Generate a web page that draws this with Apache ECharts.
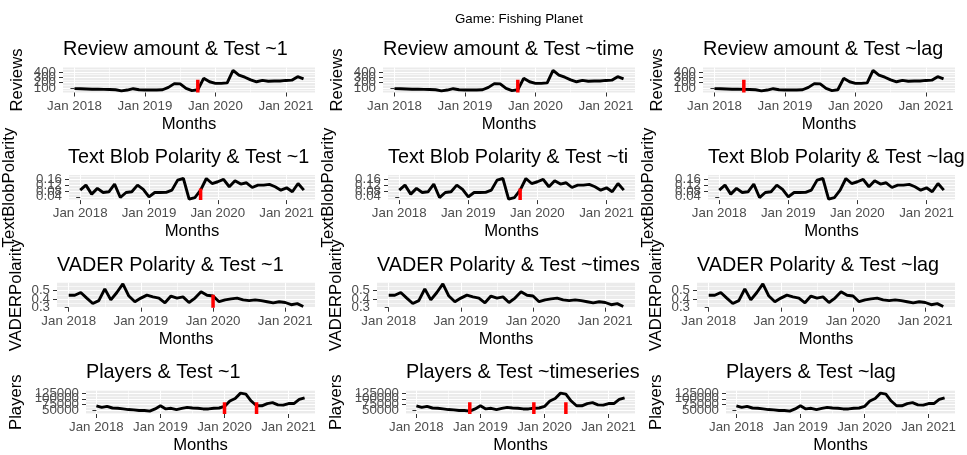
<!DOCTYPE html>
<html><head><meta charset="utf-8">
<script src="https://cdn.jsdelivr.net/npm/echarts@6/dist/echarts.min.js"></script>
<style>html,body{margin:0;padding:0;background:#fff}#c{width:967px;height:455px}</style>
</head><body><div id="c"></div>
<script>
// ---------------- data ----------------
const months = ['2018-01','2018-02','2018-03','2018-04','2018-05','2018-06','2018-07','2018-08','2018-09','2018-10','2018-11','2018-12',
  '2019-01','2019-02','2019-03','2019-04','2019-05','2019-06','2019-07','2019-08','2019-09','2019-10','2019-11','2019-12',
  '2020-01','2020-02','2020-03','2020-04','2020-05','2020-06','2020-07','2020-08','2020-09','2020-10','2020-11','2020-12',
  '2021-01','2021-02','2021-03','2021-04'];
const reviews = [87,85,80,75,78,72,70,65,45,60,85,65,60,62,62,65,110,180,175,90,50,65,280,215,185,185,195,430,340,300,250,215,240,225,230,230,240,245,310,270];
const textBlob = [0.085,0.119,0.058,0.097,0.069,0.074,0.126,0.035,0.069,0.074,0.119,0.090,0.040,0.069,0.069,0.070,0.085,0.153,0.164,0.024,0.035,0.085,0.164,0.130,0.142,0.158,0.108,0.149,0.126,0.135,0.103,0.119,0.119,0.124,0.108,0.085,0.101,0.074,0.130,0.085];
const vader = [0.445,0.445,0.478,0.412,0.348,0.382,0.520,0.391,0.478,0.580,0.436,0.369,0.412,0.447,0.426,0.412,0.356,0.436,0.412,0.426,0.360,0.412,0.486,0.445,0.436,0.369,0.391,0.403,0.412,0.391,0.382,0.391,0.382,0.369,0.356,0.369,0.360,0.334,0.346,0.312];
const players = [69400,62500,66700,59700,58300,55600,52800,51400,48600,48600,45800,55600,69400,55600,58300,52800,58300,62500,59700,58300,55600,55600,58300,59700,66700,90300,101400,125000,120800,90300,69400,69400,79200,83300,73600,72200,79200,79200,97200,104200];

const xTickMonths = ['2018-01','2019-01','2020-01','2021-01'];
const xTickLabels = ['Jan 2018','Jan 2019','Jan 2020','Jan 2021'];
const xMinorMonths = ['2018-07','2019-07','2020-07'];

const reviewTicks = [100,200,300,400];
const reviewMinor = [50,150,250,350,450];
const textTicks = [0.04,0.08,0.12,0.16];
const textMinor = [0.02,0.06,0.10,0.14,0.18];
const vaderTicks = [0.3,0.4,0.5];
const vaderMinor = [0.25,0.35,0.45,0.55];
const playerTicks = [50000,75000,100000,125000];
const playerMinor = [37500,62500,87500,112500,137500];

// y-axis limits (null = data range + 5%)
const yLimits = [[14, 482], [0.0176, 0.187], null, [33300, 137500]];

const rowTitles = ['Review amount','Text Blob Polarity','VADER Polarity','Players'];
const colTests = ['Test ~1','Test ~timeseries','Test ~lag'];
const yNames = ['Reviews','TextBlobPolarity','VADERPolarity','Players'];

// change points (month) per row, per column
const changePoints = [
  [['2019-10'], ['2019-10'], ['2018-06']],
  [['2019-10'], ['2019-10'], []],
  [['2020-01'], [], []],
  [['2020-01','2020-07'], ['2018-11','2019-11','2020-05'], []]
];
// top value of the red change-point marks, per row
const cpTop = [255, 0.097, 0.45, 85000];

// ---------------- layout ----------------
const FONT = 'Liberation Sans, Arial, Helvetica, sans-serif';
const seriesData = [reviews, textBlob, vader, players];
const ticks = [reviewTicks, textTicks, vaderTicks, playerTicks];
const minors = [reviewMinor, textMinor, vaderMinor, playerMinor];
const rowLayout = [
  {left: 63, top: 67.5, nameGap: 37, titleTop: 40},
  {left: 68, top: 175.1, nameGap: 51, titleTop: 147.6},
  {left: 57, top: 282.7, nameGap: 32, titleTop: 255.2},
  {left: 86, top: 390.3, nameGap: 61, titleTop: 362.8}
];
const colDx = [0, 320, 640];
const colClip = [321, 643, 967];
const panelRight = 315, panelH = 25;

const idx = m => months.indexOf(m);
const span = months.length - 1;
const xMin = -0.05 * span, xMax = span + 0.05 * span;

const option = {
  animation: false,
  backgroundColor: '#fff',
  title: [{text: 'Game: Fishing Planet', left: 455, top: 13, padding: 0,
    textStyle: {fontFamily: FONT, fontSize: 13.3, fontWeight: 'normal', color: '#000'}}],
  grid: [], xAxis: [], yAxis: [], series: []
};

for (let r = 0; r < 4; r++) {
  const vals = seriesData[r];
  const lo = Math.min(...vals), hi = Math.max(...vals), d = hi - lo;
  const yMin = yLimits[r] ? yLimits[r][0] : lo - 0.05 * d;
  const yMax = yLimits[r] ? yLimits[r][1] : hi + 0.05 * d;
  const L = rowLayout[r];
  for (let c = 0; c < 3; c++) {
    const g = option.grid.length;
    const left = L.left + colDx[c];
    option.grid.push({left: left, top: L.top, width: panelRight - L.left, height: panelH,
      show: true, backgroundColor: '#EBEBEB', borderWidth: 0});
    option.title.push({text: rowTitles[r] + ' & ' + colTests[c], left: left, top: L.titleTop, padding: 0,
      textStyle: {fontFamily: FONT, fontSize: 19.8, fontWeight: 'normal', color: '#000',
        width: colClip[c] - left, overflow: 'truncate', ellipsis: ''}});
    // x axes: major (ticks, labels, major grid) and minor grid
    const xt = xTickMonths.map(idx);
    const xMain = option.xAxis.length;
    option.xAxis.push({gridIndex: g, type: 'value', min: xMin, max: xMax, position: 'bottom',
      axisLine: {show: false},
      axisTick: {show: true, customValues: xt, length: 4, lineStyle: {color: '#333333', width: 1}},
      axisLabel: {customValues: xt, margin: 7, hideOverlap: false,
        fontFamily: FONT, fontSize: 13.3, color: '#4D4D4D',
        formatter: v => xTickLabels[xt.indexOf(Math.round(v))] || ''},
      splitLine: {show: true, customValues: xt, lineStyle: {color: '#FFFFFF', width: 1.1}},
      name: 'Months', nameLocation: 'middle', nameGap: 23,
      nameTextStyle: {fontFamily: FONT, fontSize: 16.7, color: '#000'}});
    const xm = xMinorMonths.map(idx);
    option.xAxis.push({gridIndex: g, type: 'value', min: xMin, max: xMax, position: 'top',
      axisLine: {show: false}, axisLabel: {show: false},
      axisTick: {show: false, customValues: xm},
      splitLine: {show: true, customValues: xm, lineStyle: {color: '#FFFFFF', width: 0.6}}});
    // y axes: minor grid, then one axis per major tick (so overlapping labels all stay visible)
    option.yAxis.push({gridIndex: g, type: 'value', min: yMin, max: yMax, position: 'right',
      axisLine: {show: false}, axisLabel: {show: false},
      axisTick: {show: false, customValues: minors[r]},
      splitLine: {show: true, customValues: minors[r], lineStyle: {color: '#FFFFFF', width: 0.6}}});
    const yMain = option.yAxis.length;
    ticks[r].forEach((t, k) => {
      const ax = {gridIndex: g, type: 'value', min: yMin, max: yMax, position: 'left', offset: 0,
        axisLine: {show: false},
        axisTick: {show: true, customValues: [t], length: 4, lineStyle: {color: '#333333', width: 1}},
        axisLabel: {customValues: [t], margin: 7, showMinLabel: true, showMaxLabel: true,
          fontFamily: FONT, fontSize: 13.3, color: '#4D4D4D', formatter: v => String(v)},
        splitLine: {show: true, customValues: [t], lineStyle: {color: '#FFFFFF', width: 1.1}}};
      if (k === 0) {
        ax.name = yNames[r]; ax.nameLocation = 'middle'; ax.nameRotate = 90; ax.nameGap = L.nameGap;
        ax.nameTextStyle = {fontFamily: FONT, fontSize: 16.7, color: '#000'};
      }
      option.yAxis.push(ax);
    });
    option.series.push({type: 'line', xAxisIndex: xMain, yAxisIndex: yMain, silent: true,
      data: vals.map((v, i) => [i, v]), symbol: 'none', z: 3,
      lineStyle: {color: '#000', width: 2.9}});
    changePoints[r][c].forEach(m => {
      option.series.push({type: 'line', xAxisIndex: xMain, yAxisIndex: yMain, silent: true,
        data: [[idx(m), yMin], [idx(m), cpTop[r]]], symbol: 'none', z: 4,
        lineStyle: {color: '#FF0000', width: 3.5}});
    });
  }
}
const chart = echarts.init(document.getElementById('c'));
chart.setOption(option);
</script></body></html>
